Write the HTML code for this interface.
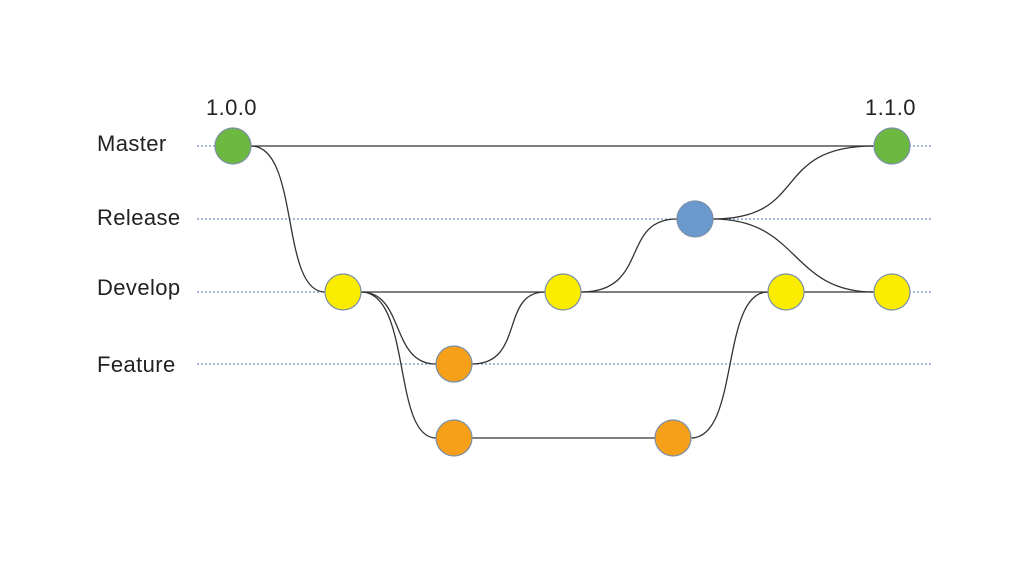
<!DOCTYPE html>
<html><head><style>body{margin:0;background:#fff}</style></head><body>
<svg width="1024" height="576" viewBox="0 0 1024 576" xmlns="http://www.w3.org/2000/svg">
<g stroke="#4a76b8" stroke-width="1" stroke-dasharray="2,2">
<line x1="197" y1="146" x2="932" y2="146"/>
<line x1="197" y1="219" x2="932" y2="219"/>
<line x1="197" y1="292" x2="932" y2="292"/>
<line x1="197" y1="364" x2="932" y2="364"/>
</g>
<g stroke="#333" stroke-width="1.3" fill="none">
<line x1="251" y1="146" x2="874" y2="146"/>
<line x1="361" y1="292" x2="874" y2="292"/>
<line x1="472" y1="438" x2="655" y2="438"/>
<path d="M251,146 C300,146 280,292 325,292"/>
<path d="M361,292 C405,292 390,364 436,364"/>
<path d="M361,292 C412,292 392,438 436,438"/>
<path d="M472,364 C525,364 500,292 545,292"/>
<path d="M581,292 C650,292 620,219 677,219"/>
<path d="M713,219 C810,219 770,146 874,146"/>
<path d="M713,219 C800,219 790,292 874,292"/>
<path d="M691,438 C740,438 720,292 768,292"/>
</g>
<g stroke="#7a8fa8" stroke-width="1.2">
<circle cx="233" cy="146" r="18" fill="#6cb840"/>
<circle cx="892" cy="146" r="18" fill="#6cb840"/>
<circle cx="695" cy="219" r="18" fill="#6a9acd"/>
<circle cx="343" cy="292" r="18" fill="#fbec00"/>
<circle cx="563" cy="292" r="18" fill="#fbec00"/>
<circle cx="786" cy="292" r="18" fill="#fbec00"/>
<circle cx="892" cy="292" r="18" fill="#fbec00"/>
<circle cx="454" cy="364" r="18" fill="#f6a01a"/>
<circle cx="454" cy="438" r="18" fill="#f6a01a"/>
<circle cx="673" cy="438" r="18" fill="#f6a01a"/>
</g>
<g font-family="Liberation Sans, sans-serif" font-size="22" fill="#222" letter-spacing="0.4">
<text x="97" y="151">Master</text>
<text x="97" y="225">Release</text>
<text x="97" y="295">Develop</text>
<text x="97" y="372">Feature</text>
<text x="206" y="115">1.0.0</text>
<text x="865" y="115">1.1.0</text>
</g>
</svg>
</body></html>
